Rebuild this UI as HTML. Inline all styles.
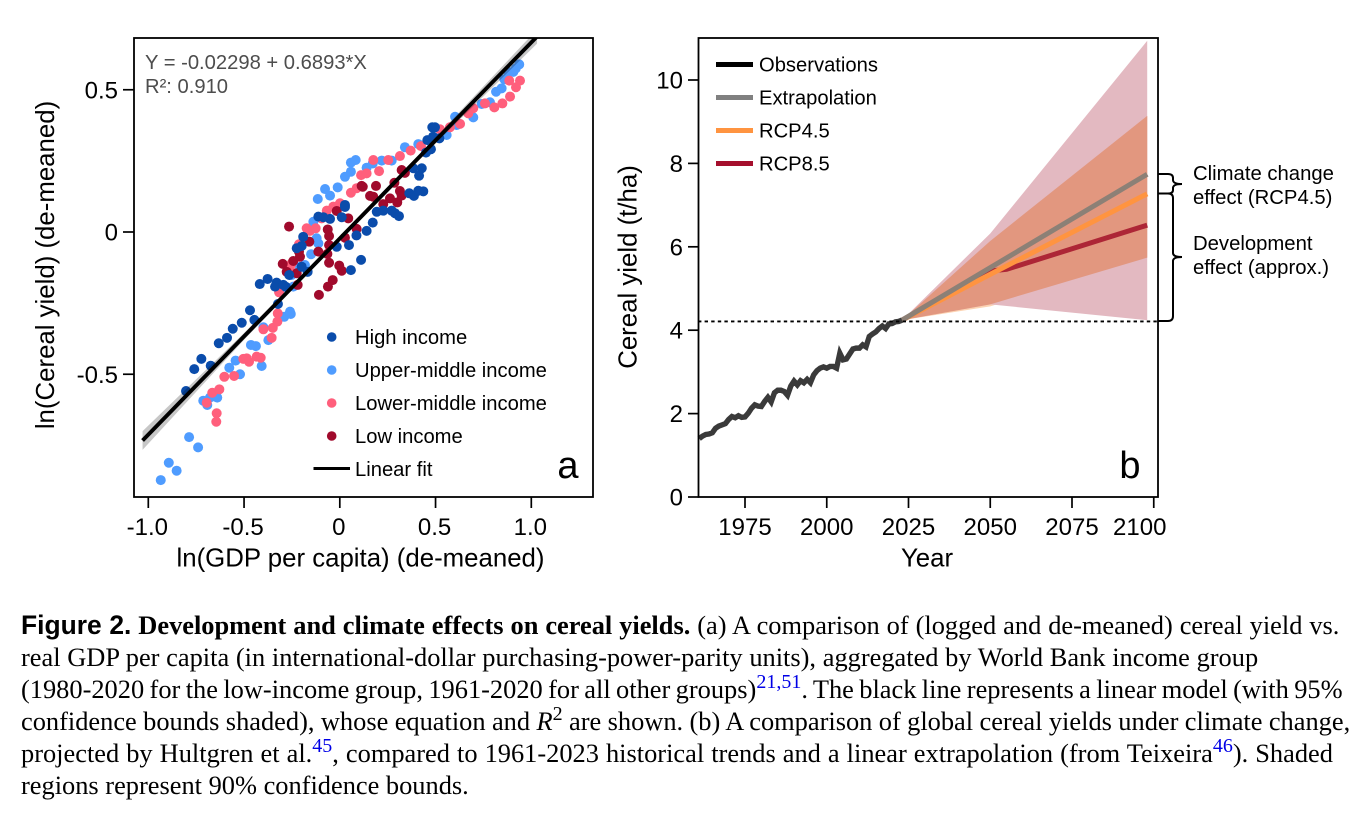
<!DOCTYPE html>
<html lang="en">
<head>
<meta charset="utf-8">
<title>Figure 2</title>
<style>
html,body{margin:0;padding:0;background:#fff;width:1360px;height:820px;overflow:hidden}
svg{display:block}
text{font-family:"Liberation Sans",sans-serif;fill:#000}
.cap{font-family:"Liberation Serif",serif;font-size:26.4px}
.cap tspan.b{font-weight:bold}
.cap tspan.s{font-family:"Liberation Sans",sans-serif;font-weight:bold}
.cap tspan.r{fill:#0000e6;font-size:20px}
</style>
</head>
<body>
<svg id="fig" xmlns="http://www.w3.org/2000/svg" width="1360" height="820" viewBox="0 0 1360 820">
  <rect width="1360" height="820" fill="#fff"/>
  <defs>
    <clipPath id="clipA"><rect x="134" y="38" width="459" height="459"/></clipPath>
  </defs>
  <g id="panelA"></g>
  <g id="panelB"></g>

  <text x="145" y="69" font-size="20.2" style="fill:#4d4d4d">Y = -0.02298 + 0.6893*X</text>
  <text x="145" y="93" font-size="20.2" style="fill:#4d4d4d">R²: 0.910</text>
  <text x="568" y="478" font-size="38" text-anchor="middle">a</text>
  <text x="360.5" y="566.5" font-size="25.8" text-anchor="middle">ln(GDP per capita) (de-meaned)</text>
  <text transform="translate(54,265) rotate(-90)" font-size="25.8" text-anchor="middle">ln(Cereal yield) (de-meaned)</text>

  <text x="1130" y="478" font-size="38" text-anchor="middle">b</text>
  <text x="927" y="566.5" font-size="25.8" text-anchor="middle">Year</text>
  <text transform="translate(636.5,267) rotate(-90)" font-size="25.8" text-anchor="middle">Cereal yield (t/ha)</text>

  <path d="M1158,174 L1168,174 Q1173,174 1173,178 L1173,180 Q1173,184 1182,184 Q1173,184 1173,188 L1173,190 Q1173,193.5 1168,193.5 L1158,193.5" fill="none" stroke="#000" stroke-width="2"/>
  <path d="M1158,193.5 L1168,193.5 Q1173,193.5 1173,198 L1173,253 Q1173,257 1182,257 Q1173,257 1173,261 L1173,316 Q1173,321 1168,321 L1158,321" fill="none" stroke="#000" stroke-width="2"/>
  <text x="1193" y="180" font-size="20.3">Climate change</text>
  <text x="1193" y="204" font-size="20.3">effect (RCP4.5)</text>
  <text x="1193" y="250" font-size="20.3">Development</text>
  <text x="1193" y="274" font-size="20.3">effect (approx.)</text>

  <g>
    <text class="cap" x="21" y="634" word-spacing="0.35"><tspan class="s">Figure 2.</tspan> <tspan class="b">Development and climate effects on cereal yields.</tspan> (a) A comparison of (logged and de-meaned) cereal yield vs.</text>
    <text class="cap" x="21" y="666" word-spacing="0.1">real GDP per capita (in international-dollar purchasing-power-parity units), aggregated by World Bank income group</text>
    <text class="cap" x="21" y="698" word-spacing="-1.2">(1980-2020 for the low-income group, 1961-2020 for all other groups)<tspan class="r" dy="-10">21,51</tspan><tspan dy="10">. The black line represents a linear model (with 95%</tspan></text>
    <text class="cap" x="21" y="730" word-spacing="-0.2">confidence bounds shaded), whose equation and <tspan font-style="italic">R</tspan><tspan font-size="20" dy="-10">2</tspan><tspan dy="10"> are shown. (b) A comparison of global cereal yields under climate change,</tspan></text>
    <text class="cap" x="21" y="762" word-spacing="0.45">projected by Hultgren et al.<tspan class="r" dy="-10">45</tspan><tspan dy="10">, compared to 1961-2023 historical trends and a linear extrapolation (from Teixeira</tspan><tspan class="r" dy="-10">46</tspan><tspan dy="10">). Shaded</tspan></text>
    <text class="cap" x="21" y="794">regions represent 90% confidence bounds.</text>
  </g>
</svg>
<script>
// ---------- Panel a data ----------
const highIncome = [[-0.803,-0.559],[-0.760,-0.482],[-0.723,-0.446],[-0.674,-0.470],[-0.632,-0.391],[-0.589,-0.372],[-0.559,-0.340],[-0.512,-0.319],[-0.469,-0.275],[-0.446,-0.309],[-0.418,-0.183],[-0.377,-0.165],[-0.330,-0.178],[-0.338,-0.192],[-0.295,-0.186],[-0.281,-0.193],[-0.323,-0.253],[-0.264,-0.151],[-0.168,-0.140],[-0.199,-0.122],[-0.191,-0.017],[-0.225,-0.057],[-0.199,-0.049],[-0.016,-0.052],[0.048,-0.046],[0.058,-0.134],[0.111,-0.098],[0.087,-0.012],[0.027,0.095],[0.027,0.088],[0.010,0.052],[-0.051,0.046],[-0.086,0.052],[-0.112,0.054],[0.140,0.004],[0.172,0.033],[0.193,0.071],[0.227,0.075],[0.271,0.075],[0.288,0.066],[0.309,0.056],[0.363,0.136],[0.387,0.127],[0.410,0.145],[0.436,0.143],[0.384,0.224],[0.428,0.224],[0.414,0.198],[0.450,0.279],[0.476,0.291],[0.457,0.323],[0.483,0.368],[0.497,0.368],[0.520,0.329],[0.487,0.335]];
const upperMiddleIncome = [[-0.935,-0.872],[-0.852,-0.839],[-0.893,-0.811],[-0.740,-0.757],[-0.787,-0.721],[-0.713,-0.593],[-0.692,-0.608],[-0.678,-0.582],[-0.640,-0.582],[-0.577,-0.477],[-0.521,-0.500],[-0.544,-0.452],[-0.408,-0.471],[-0.464,-0.397],[-0.438,-0.401],[-0.373,-0.380],[-0.399,-0.335],[-0.290,-0.298],[-0.256,-0.288],[-0.243,-0.192],[-0.260,-0.151],[-0.208,-0.123],[-0.182,-0.116],[-0.251,-0.151],[-0.150,-0.078],[-0.121,-0.022],[-0.112,-0.040],[-0.260,-0.280],[-0.115,0.116],[-0.077,0.151],[-0.051,0.128],[-0.011,0.157],[0.027,0.194],[0.058,0.212],[0.058,0.244],[0.083,0.253],[-0.138,0.036],[0.140,0.226],[0.172,0.241],[0.219,0.251],[0.271,0.251],[0.340,0.298],[0.410,0.309],[0.602,0.405],[0.610,0.376],[0.558,0.341],[0.697,0.403],[0.784,0.456],[0.741,0.450],[0.816,0.493],[0.845,0.505],[0.859,0.537],[0.880,0.563],[0.906,0.563],[0.919,0.575],[0.937,0.589]];
const lowerMiddleIncome = [[-0.695,-0.600],[-0.666,-0.565],[-0.629,-0.553],[-0.643,-0.637],[-0.645,-0.667],[-0.603,-0.509],[-0.552,-0.506],[-0.504,-0.446],[-0.486,-0.444],[-0.474,-0.456],[-0.434,-0.438],[-0.413,-0.442],[-0.356,-0.372],[-0.399,-0.342],[-0.350,-0.337],[-0.326,-0.315],[-0.324,-0.286],[-0.317,-0.212],[-0.260,-0.122],[-0.277,-0.140],[-0.251,-0.110],[-0.213,-0.043],[-0.173,0.013],[-0.126,0.013],[-0.156,0.004],[-0.068,0.075],[-0.034,0.089],[0.001,0.101],[0.058,0.138],[0.088,0.154],[0.111,0.200],[-0.095,0.048],[0.140,0.206],[0.175,0.253],[0.205,0.214],[0.253,0.253],[0.314,0.267],[0.370,0.286],[0.424,0.302],[0.523,0.361],[0.575,0.368],[0.628,0.380],[0.671,0.417],[0.697,0.435],[0.758,0.452],[0.807,0.438],[0.849,0.452],[0.889,0.476],[0.920,0.509],[0.941,0.532],[0.885,0.532]];
const lowIncome = [[-0.265,0.019],[-0.063,0.009],[-0.056,-0.014],[0.027,-0.020],[0.088,0.011],[-0.159,-0.034],[-0.056,-0.046],[-0.213,-0.069],[-0.112,-0.069],[-0.065,-0.077],[-0.208,-0.087],[-0.243,-0.102],[-0.298,-0.112],[-0.056,-0.108],[-0.003,-0.118],[0.010,-0.136],[-0.225,-0.145],[-0.220,-0.186],[-0.037,-0.169],[-0.062,-0.192],[-0.109,-0.221],[-0.277,-0.140],[-0.016,0.074],[0.044,0.048],[0.114,0.162],[0.120,0.159],[0.189,0.162],[0.158,0.127],[0.175,0.124],[0.227,0.098],[0.262,0.118],[0.300,0.104],[0.314,0.144],[0.323,0.128],[0.285,0.173],[0.340,0.208],[0.323,0.218]];
const fitX = [-1.03,-0.5,0,0.5,1.03];
const fitY = [-0.733,-0.367,-0.023,0.322,0.687];
const fitLow = [-0.766,-0.379,-0.031,0.311,0.662];
const fitHigh = [-0.700,-0.355,-0.015,0.333,0.712];
const xTicksA = [-1,-0.5,0,0.5,1];
const xTickLabelsA = ['-1.0','-0.5','0','0.5','1.0'];
const yTicksA = [-0.5,0,0.5];
const yTickLabelsA = ['-0.5','0','0.5'];
const legendLabelsA = ['High income','Upper-middle income','Lower-middle income','Low income','Linear fit'];

// ---------- Panel b data ----------
const obsStartYear = 1961;
const observations = [1.40,1.46,1.50,1.51,1.54,1.65,1.70,1.73,1.76,1.86,1.93,1.90,1.95,1.91,1.92,2.01,2.13,2.21,2.18,2.17,2.29,2.39,2.28,2.50,2.56,2.56,2.53,2.44,2.66,2.78,2.69,2.79,2.74,2.82,2.74,2.93,3.03,3.09,3.12,3.09,3.13,3.13,3.09,3.45,3.29,3.31,3.43,3.55,3.57,3.57,3.65,3.60,3.85,3.91,3.96,4.04,4.10,4.04,4.15,4.16,4.20,4.21,4.24];
const bandYears = [2023,2050,2098];
const rcp45High = [4.24,6.14,9.14];
const rcp45Low = [4.24,4.57,5.74];
const rcp85High = [4.24,6.32,10.94];
const rcp85Low = [4.24,4.62,4.24];
const extrapYears = [2023,2098];
const extrapValues = [4.24,7.74];
const rcp45Years = [2023,2051,2098];
const rcp45Values = [4.24,5.38,7.27];
const rcp85Years = [2023,2050,2055,2098];
const rcp85Values = [4.24,5.42,5.46,6.52];
const referenceLevel = [4.21];
const xTicksB = [1975,2000,2025,2050,2075,2100];
const xTickLabelsB = ['1975','2000','2025','2050','2075','2100'];
const yTicksB = [0,2,4,6,8,10];
const legendLabelsB = ['Observations','Extrapolation','RCP4.5','RCP8.5'];

// ---------- Axis functions ----------
function xA(v){return 339.8+191.5*v;}
function yA(v){return 232-284.5*v;}
function xB(v){return 745+3.27*(v-1975);}
function yB(v){return 497-41.7*v;}

const NS='http://www.w3.org/2000/svg';
function mk(parent,tag,attrs,txt){
  const e=document.createElementNS(NS,tag);
  for(const k in attrs){e.setAttribute(k,attrs[k]);}
  if(txt!==undefined){e.textContent=txt;}
  parent.appendChild(e);
  return e;
}
function pathOf(xs,ys,fx,fy){
  return xs.map((x,i)=>(i?'L':'M')+fx(x).toFixed(2)+','+fy(ys[i]).toFixed(2)).join(' ');
}
function bandOf(xs,hi,lo,fx,fy){
  return pathOf(xs,hi,fx,fy)+' '+xs.slice().reverse().map((x,i)=>'L'+fx(x).toFixed(2)+','+fy(lo[xs.length-1-i]).toFixed(2)).join(' ')+' Z';
}

// ---------- Panel a ----------
const A=document.getElementById('panelA');
const plotA=mk(A,'g',{'clip-path':'url(#clipA)'});



const groupsA=[
  {pts:upperMiddleIncome,c:'#4f9cff'},
  {pts:lowerMiddleIncome,c:'#ff5f7c'},
  {pts:lowIncome,c:'#a00a2c'},
  {pts:highIncome,c:'#0a4cab'}
];
groupsA.forEach(function(g){
  g.pts.forEach(function(p){
    const el=mk(plotA,'circle',{cx:xA(p[0]).toFixed(2),cy:yA(p[1]).toFixed(2),r:5,fill:g.c});
    
    
  });
});
const ciBand=mk(plotA,'path',{d:bandOf(fitX,fitHigh,fitLow,xA,yA),fill:'#000','fill-opacity':0.22});


const fitLine=mk(plotA,'path',{d:pathOf(fitX,fitY,xA,yA),fill:'none',stroke:'#000','stroke-width':3.9});



const frameA=mk(A,'rect',{x:134,y:38,width:459,height:459,fill:'none',stroke:'#000','stroke-width':1.8});



xTicksA.forEach(function(v,i){
  const t=mk(A,'line',{x1:xA(v),x2:xA(v),y1:497,y2:508,stroke:'#000','stroke-width':1.7});
  
  
  const l=mk(A,'text',{x:xA(v)-1,y:535,'font-size':24,'text-anchor':'middle'},xTickLabelsA[i]);
  
  
});
yTicksA.forEach(function(v,i){
  const t=mk(A,'line',{x1:123,x2:134,y1:yA(v),y2:yA(v),stroke:'#000','stroke-width':1.7});
  
  
  const l=mk(A,'text',{x:118,y:yA(v)+8.5,'font-size':24,'text-anchor':'end'},yTickLabelsA[i]);
  
  
});
const legendColorsA=['#0a4cab','#4f9cff','#ff5f7c','#a00a2c'];
legendLabelsA.forEach(function(lab,i){
  const rowY=337+33*i;
  if(i<4){
    const d=mk(A,'circle',{cx:331.7,cy:rowY,r:4.8,fill:legendColorsA[i]});
    
    
  }else{
    const ln=mk(A,'line',{x1:313.5,x2:350,y1:rowY-0.5,y2:rowY-0.5,stroke:'#000','stroke-width':3});
    
    
  }
  const tx=mk(A,'text',{x:355,y:rowY+7,'font-size':20.2},lab);
  
  
});

// ---------- Panel b ----------
const B=document.getElementById('panelB');
const overlapHigh=rcp45High.map((v,i)=>Math.min(v,rcp85High[i]));
const overlapLow=rcp45Low.map((v,i)=>Math.max(v,rcp85Low[i]));
const band45=mk(B,'path',{d:bandOf(bandYears,rcp45High,rcp45Low,xB,yB),fill:'#fcd3b2'});


const band85=mk(B,'path',{d:bandOf(bandYears,rcp85High,rcp85Low,xB,yB),fill:'#e3b9c1'});


const bandBoth=mk(B,'path',{d:bandOf(bandYears,overlapHigh,overlapLow,xB,yB),fill:'#e2977f'});



const obsYears=observations.map((_,i)=>obsStartYear+i);
const lineRed=mk(B,'path',{d:pathOf(rcp85Years,rcp85Values,xB,yB),fill:'none',stroke:'#ad2636','stroke-width':5});


const lineOrange=mk(B,'path',{d:pathOf(rcp45Years,rcp45Values,xB,yB),fill:'none',stroke:'#ff9440','stroke-width':5});


const lineGrey=mk(B,'path',{d:pathOf(extrapYears,extrapValues,xB,yB),fill:'none',stroke:'#8c8076','stroke-width':5});


const lineObs=mk(B,'path',{d:pathOf(obsYears,observations,xB,yB),fill:'none',stroke:'#3a3a3a','stroke-width':5.4,'stroke-linejoin':'miter'});



const refLine=mk(B,'line',{x1:698,x2:1160,y1:yB(referenceLevel[0]),y2:yB(referenceLevel[0]),stroke:'#000','stroke-width':1.8,'stroke-dasharray':'3.4 3.2'});



const frameB=mk(B,'rect',{x:698.5,y:38,width:459.5,height:459,fill:'none',stroke:'#000','stroke-width':1.8});



xTicksB.forEach(function(v,i){
  const t=mk(B,'line',{x1:xB(v),x2:xB(v),y1:497,y2:508,stroke:'#000','stroke-width':1.7});
  
  
  const shift=(i===xTicksB.length-1)?-14:0;
  const l=mk(B,'text',{x:xB(v)+shift,y:535,'font-size':24,'text-anchor':'middle'},xTickLabelsB[i]);
  
  
});
yTicksB.forEach(function(v){
  const t=mk(B,'line',{x1:688,x2:698.5,y1:yB(v),y2:yB(v),stroke:'#000','stroke-width':1.7});
  
  
  const l=mk(B,'text',{x:683,y:yB(v)+8.5,'font-size':24,'text-anchor':'end'},String(v));
  
  
});
const legendColorsB=['#000','#808080','#ff9440','#a50f2d'];
legendLabelsB.forEach(function(lab,i){
  const rowY=64.5+33*i;
  const ln=mk(B,'line',{x1:716,x2:753,y1:rowY,y2:rowY,stroke:legendColorsB[i],'stroke-width':5});
  
  
  const tx=mk(B,'text',{x:759,y:rowY+7,'font-size':20.2},lab);
  
  
});
</script>
</body>
</html>
